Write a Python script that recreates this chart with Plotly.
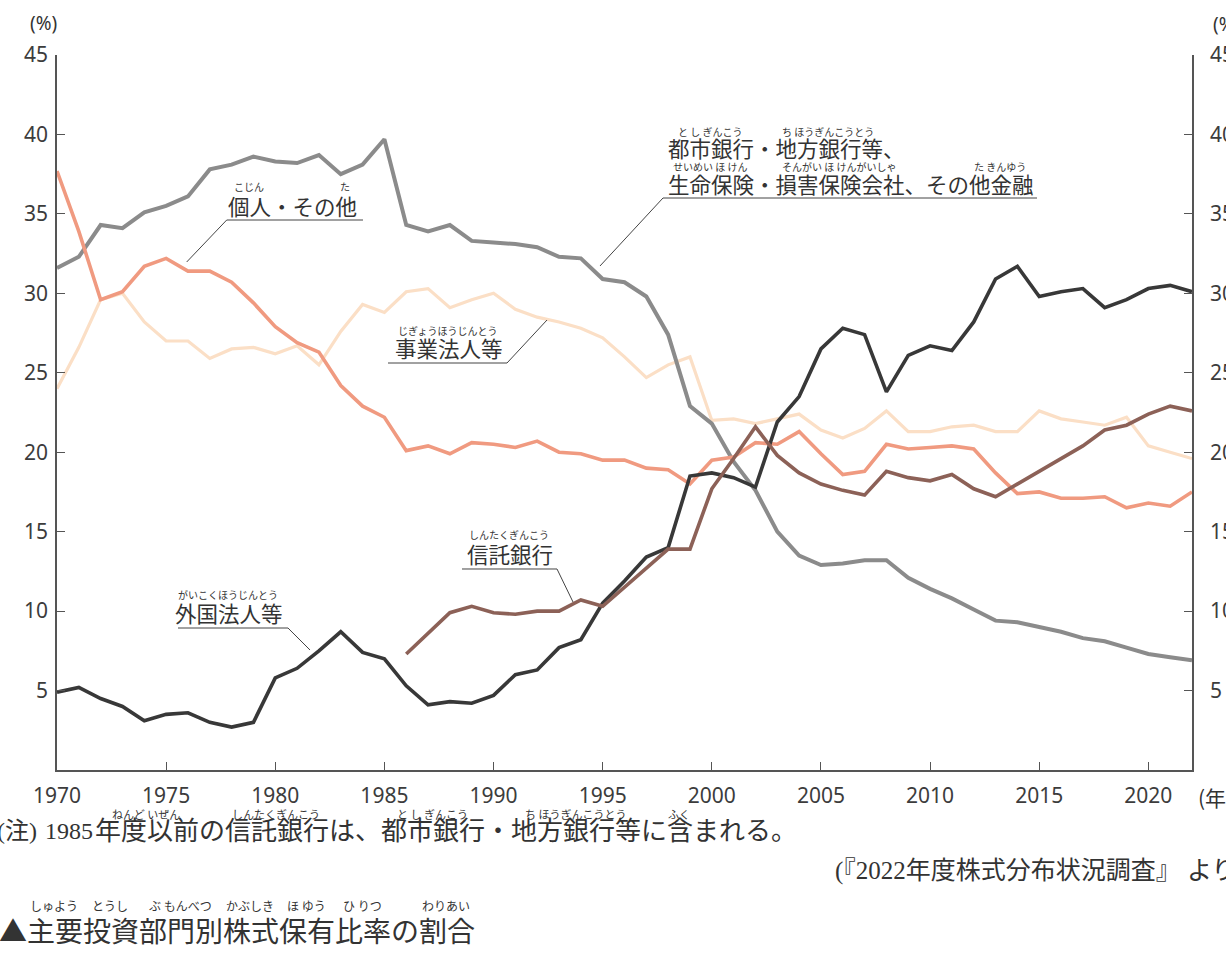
import plotly.graph_objects as go

# ---------------- data ----------------
years = list(range(1970, 2023))
trust_years = list(range(1986, 2023))

foreign = [4.9, 5.2, 4.5, 4.0, 3.1, 3.5, 3.6, 3.0, 2.7, 3.0,
           5.8, 6.4, 7.5, 8.7, 7.4, 7.0, 5.3, 4.1, 4.3, 4.2,
           4.7, 6.0, 6.3, 7.7, 8.2, 10.5, 11.9, 13.4, 14.0, 18.5,
           18.7, 18.4, 17.8, 21.9, 23.5, 26.5, 27.8, 27.4, 23.8, 26.1,
           26.7, 26.4, 28.2, 30.9, 31.7, 29.8, 30.1, 30.3, 29.1, 29.6,
           30.3, 30.5, 30.1]

financial = [31.6, 32.3, 34.3, 34.1, 35.1, 35.5, 36.1, 37.8, 38.1, 38.6,
             38.3, 38.2, 38.7, 37.5, 38.1, 39.7, 34.3, 33.9, 34.3, 33.3,
             33.2, 33.1, 32.9, 32.3, 32.2, 30.9, 30.7, 29.8, 27.4, 22.9,
             21.8, 19.4, 17.6, 15.0, 13.5, 12.9, 13.0, 13.2, 13.2, 12.1,
             11.4, 10.8, 10.1, 9.4, 9.3, 9.0, 8.7, 8.3, 8.1, 7.7,
             7.3, 7.1, 6.9]

individual = [37.7, 33.9, 29.6, 30.1, 31.7, 32.2, 31.4, 31.4, 30.7, 29.4,
              27.9, 26.9, 26.3, 24.2, 22.9, 22.2, 20.1, 20.4, 19.9, 20.6,
              20.5, 20.3, 20.7, 20.0, 19.9, 19.5, 19.5, 19.0, 18.9, 18.0,
              19.5, 19.7, 20.6, 20.5, 21.3, 19.9, 18.6, 18.8, 20.5, 20.2,
              20.3, 20.4, 20.2, 18.7, 17.4, 17.5, 17.1, 17.1, 17.2, 16.5,
              16.8, 16.6, 17.5]

business = [24.0, 26.6, 29.6, 30.0, 28.2, 27.0, 27.0, 25.9, 26.5, 26.6,
            26.2, 26.7, 25.5, 27.6, 29.3, 28.8, 30.1, 30.3, 29.1, 29.6,
            30.0, 29.0, 28.5, 28.2, 27.8, 27.2, 26.0, 24.7, 25.5, 26.0,
            22.0, 22.1, 21.8, 22.1, 22.4, 21.4, 20.9, 21.5, 22.6, 21.3,
            21.3, 21.6, 21.7, 21.3, 21.3, 22.6, 22.1, 21.9, 21.7, 22.2,
            20.4, 20.0, 19.6]

trust = [7.3, 8.6, 9.9, 10.3, 9.9, 9.8, 10.0, 10.0, 10.7, 10.3,
         11.5, 12.7, 13.9, 13.9, 17.7, 19.6, 21.6, 19.8, 18.7, 18.0,
         17.6, 17.3, 18.8, 18.4, 18.2, 18.6, 17.7, 17.2, 18.0, 18.8,
         19.6, 20.4, 21.4, 21.7, 22.4, 22.9, 22.6]

x_ticks = [1970, 1975, 1980, 1985, 1990, 1995, 2000, 2005, 2010, 2015, 2020]
y_ticks = [5, 10, 15, 20, 25, 30, 35, 40, 45]

# ---------------- layout helpers ----------------
W, H = 1226, 957
L, R, T, B = 57, 34, 55, 187
PW, PH = W - L - R, H - T - B
JP = "Noto Sans CJK JP"
NUM = "Noto Sans"
SERIF = "Liberation Serif, Noto Sans CJK JP"
TXT = "#333333"


def px(x):
    return (x - L) / PW


def py(y):
    return (H - B - y) / PH


annotations = []
shapes = []


def text(x, y, s, size, xanchor="left", family=JP, color=TXT):
    annotations.append(dict(x=px(x), y=py(y), xref="paper", yref="paper", text=s,
                            showarrow=False, xanchor=xanchor, yanchor="middle",
                            borderpad=0,
                            font=dict(size=size, family=family, color=color)))


def ruby(x0, cw, y, groups, size=10):
    for start, n, reading in groups:
        text(x0 + cw * (start + n / 2.0), y, reading, size, xanchor="center")


def leader(points, width=1.0, color="#444444"):
    d = "M " + " L ".join(f"{px(a):.5f},{py(b):.5f}" for a, b in points)
    shapes.append(dict(type="path", path=d, xref="paper", yref="paper",
                       line=dict(color=color, width=width)))


# ---------------- traces ----------------
fig = go.Figure()
fig.add_trace(go.Scatter(x=years, y=business, mode="lines",
                         line=dict(color="#fbdfc6", width=3.2), name="事業法人等"))
fig.add_trace(go.Scatter(x=years, y=financial, mode="lines",
                         line=dict(color="#8b8b8b", width=4), name="都市銀行・地方銀行等"))
fig.add_trace(go.Scatter(x=years, y=individual, mode="lines",
                         line=dict(color="#f09a80", width=3.6), name="個人・その他"))
fig.add_trace(go.Scatter(x=years, y=foreign, mode="lines",
                         line=dict(color="#383838", width=3.6), name="外国法人等"))
fig.add_trace(go.Scatter(x=trust_years, y=trust, mode="lines",
                         line=dict(color="#8c6157", width=3.6), name="信託銀行"))
fig.add_trace(go.Scatter(x=[years[0]], y=[None], yaxis="y2", mode="lines",
                         showlegend=False, hoverinfo="skip"))

# ---------------- labels ----------------
CW = 21.5
# 個人・その他
text(227, 205, "個人・その他", CW)
ruby(227, CW, 186, [(0, 2, "こじん"), (5, 1, "た")])
leader([(186.7, 262), (226.7, 220), (363, 220)])

# 事業法人等
text(394, 348, "事業法人等", CW)
ruby(394, CW, 330, [(0, 5, "じぎょうほうじんとう")])
leader([(388, 363), (507, 363), (547, 320)])

# 都市銀行…
text(667, 147, "都市銀行・地方銀行等、", CW)
ruby(667, CW, 131, [(0, 4, "と し ぎんこう"), (5, 5, "ち ほうぎんこうとう")])
text(667, 184, "生命保険・損害保険会社、その他金融", CW)
ruby(667, CW, 166, [(0, 4, "せいめい ほ けん"), (5, 6, "そんがい ほ けんがいしゃ"),
                    (14, 3, "た きんゆう")])
leader([(600, 266), (663, 198), (1037, 198)])

# 信託銀行
text(466, 553, "信託銀行", CW)
ruby(466, CW, 534, [(0, 4, "しんたくぎんこう")])
leader([(462, 569), (557, 569), (573, 602)])

# 外国法人等
text(174, 612, "外国法人等", CW)
ruby(174, CW, 594, [(0, 5, "がいこくほうじんとう")])
leader([(178, 628), (288, 628), (310, 650)])

# axis units
text(43, 23, "(%)", 19, xanchor="center", family=NUM)
text(1212, 24, "(%)", 19, family=NUM)
text(1197, 797, "(年)", 21)

# footnote
NOTE_CW = 26
text(-4, 831, "(注)", 24, family=SERIF)
text(44, 831, "1985", 24, family="Liberation Serif")
text(94, 831, "年度以前の信託銀行は、都市銀行・地方銀行等に含まれる。", NOTE_CW, family=SERIF)
ruby(94, NOTE_CW, 814, [(0, 4, "ねんど いぜん"), (5, 4, "しんたくぎんこう"),
                        (11, 4, "と し ぎんこう"), (16, 5, "ち ほうぎんこうとう"),
                        (22, 1, "ふく")], size=11)

# source
text(834, 871, "(『2022年度株式分布状況調査』 より)", 25, family=SERIF)

# title
TITLE_CW = 28
text(-2, 930, "▲主要投資部門別株式保有比率の割合", TITLE_CW)
ruby(-2, TITLE_CW, 905, [(1, 2, "しゅよう"), (3, 2, "とうし"), (5, 3, "ぶ もんべつ"),
                         (8, 2, "かぶしき"), (10, 2, "ほ ゆう"), (12, 2, "ひ りつ"),
                         (15, 2, "わりあい")], size=12)

# ---------------- axes ----------------
axis_common = dict(showgrid=False, zeroline=False, showline=True, linecolor="#555555",
                   linewidth=1.5, ticks="inside", ticklen=8, tickwidth=1.3,
                   tickcolor="#555555", automargin=False,
                   tickfont=dict(family=NUM, size=21, color="#3c3c3c"))

fig.update_layout(
    width=W, height=H,
    margin=dict(l=L, r=R, t=T, b=B, autoexpand=False),
    paper_bgcolor="white", plot_bgcolor="white",
    showlegend=False,
    annotations=annotations,
    shapes=shapes,
    xaxis=dict(range=[1970, 2022], tickvals=x_ticks, ticktext=[str(v) for v in x_ticks],
               ticklabelstandoff=6, **axis_common),
    yaxis=dict(range=[0, 45], tickvals=y_ticks, ticktext=[str(v) for v in y_ticks],
               ticklabelstandoff=3, **axis_common),
    yaxis2=dict(range=[0, 45], tickvals=y_ticks, ticktext=[str(v) for v in y_ticks],
                overlaying="y", side="right", anchor="x", ticklabelstandoff=12,
                **axis_common),
)

fig.write_html("out.html")
